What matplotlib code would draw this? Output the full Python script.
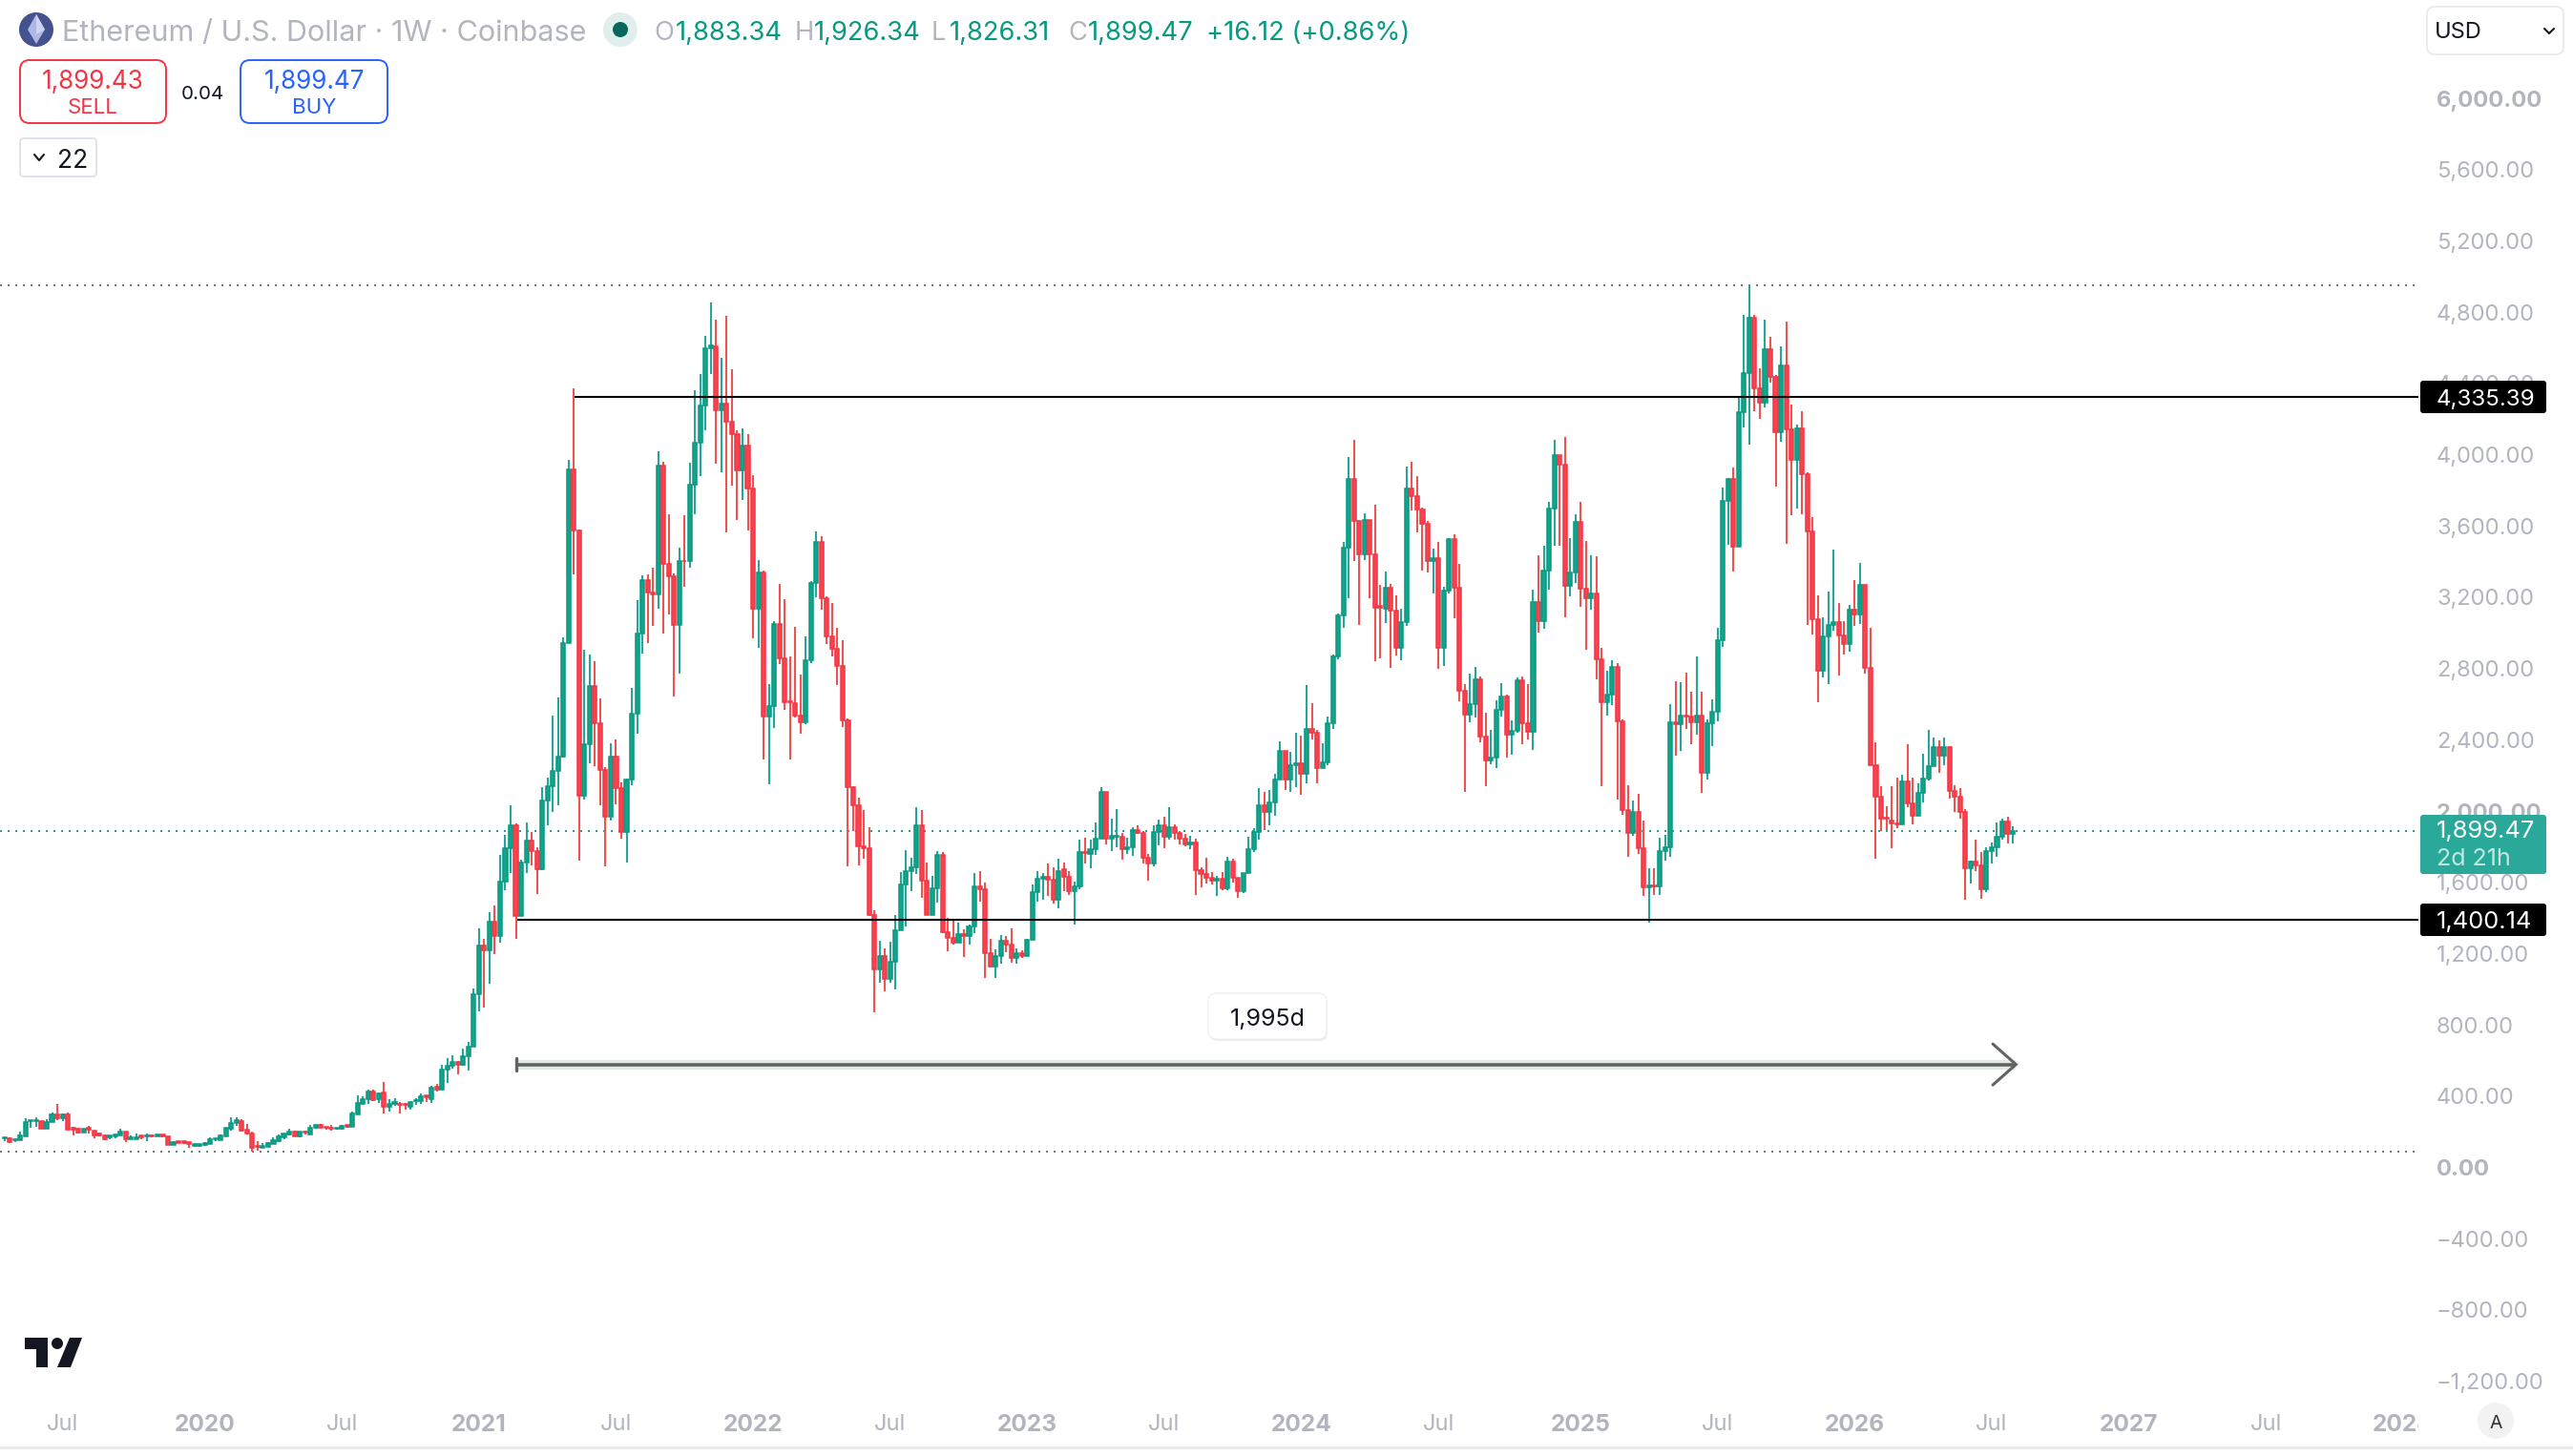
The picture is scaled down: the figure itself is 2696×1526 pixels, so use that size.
import matplotlib
matplotlib.use("Agg")
import matplotlib.pyplot as plt
from matplotlib.patches import FancyBboxPatch, Circle, Polygon, Rectangle
from matplotlib.lines import Line2D
from matplotlib.transforms import Bbox, Affine2D

# ---------- data ----------
opens = [172,174,161,161,186,270,270,270,229,267,306,288,306,231,227,208,231,215,199,190,181,186,190,211,170,170,188,183,190,186,193,183,138,156,156,150,133,133,134,142,167,165,186,229,258,272,220,201,129,122,128,144,156,179,195,210,185,213,197,231,247,238,235,226,226,247,240,310,369,392,436,392,431,351,369,369,369,351,381,381,413,395,461,449,561,579,600,588,636,
686,981,1254,1231,1391,1311,1612,1804,1932,1421,
1724,1847,1784,1686,2071,2148,2235,2317,2954,3927,
3583,2099,2383,2711,2506,2241,1981,2317,2140,1894,
2189,2555,3009,3309,3238,3225,3949,3397,3326,3055,
3416,3413,3845,4080,4285,4610,4620,4258,4296,4198,
4129,3922,4064,3823,3148,3348,2539,2602,3058,2869,
2626,2615,2547,2511,2858,3293,3520,3203,2990,2919,
2823,2517,2142,2041,1812,1804,1426,1123,1194,1068,
1167,1339,1596,1675,1696,1932,1618,1425,1577,1766,
1331,1296,1272,1321,1307,1360,1589,1569,1214,1138,
1194,1280,1263,1184,1212,1198,1290,1553,1628,1639,
1624,1514,1682,1639,1561,1587,1782,1772,1794,1856,
2120,1856,1868,1868,1799,1807,1905,1889,1747,1717,
1895,1930,1864,1922,1885,1856,1823,1835,1680,1655,
1635,1618,1628,1577,1729,1635,1559,1663,1794,1891,
2045,2008,2061,2188,2348,2188,2266,2280,2219,2469,
2450,2254,2284,2504,2881,3110,3488,3877,3638,3453,
3642,3451,3160,3146,3262,3133,2924,3070,3820,3777,
3705,3621,3416,3428,2928,3246,3535,3266,2688,2553,
2608,2748,2426,2297,2311,2580,2656,2438,2461,2742,
2502,2455,3182,3076,3363,3707,4007,3953,3277,3350,
3631,3260,3207,3230,2865,2623,2662,2818,2516,2018,
1885,2004,1803,1581,1594,1586,1788,1805,2510,2496,
2549,2539,2508,2545,2227,2502,2569,2971,3754,3873,
3496,4248,4471,4779,4385,4302,4602,4447,4139,4511,
4152,3980,4157,3903,3579,3089,2799,2989,3057,3070,
2998,2947,3139,3116,3279,2812,2266,2089,1971,1958,
1941,1936,2175,2052,1985,2111,2192,2261,2369,2320,
2369,2125,2093,2003,1688,1725,1703,1570,1784,1806,
1867,1951,1883.34]

highs = [177,179,174,211,286,275,292,270,281,318,367,313,318,238,233,227,243,215,206,195,188,193,227,211,188,200,188,200,193,193,193,183,158,156,156,152,140,140,150,179,174,195,231,292,292,279,252,210,156,147,153,179,195,199,227,217,211,217,249,249,252,238,247,231,247,247,324,415,408,447,445,431,490,392,399,377,374,383,401,426,413,468,479,586,624,640,606,677,715,
1016,1350,1293,1443,1481,1764,1877,2044,1940,1738,
1946,1894,1806,2145,2197,2547,2648,2987,3982,4383,
3591,2916,2889,2853,2643,2257,2391,2413,2172,2194,
2703,3195,3334,3339,3378,4031,3971,3676,3345,3490,
3670,3965,4373,4463,4676,4867,4769,4556,4788,4490,
4148,4159,4127,3897,3419,3361,2722,3077,3285,3200,
2878,3044,2776,2990,3301,3580,3553,3216,3178,3039,
2971,2530,2148,2085,2017,1918,1454,1282,1240,1276,
1426,1667,1790,1747,2032,2016,1721,1649,1788,1782,
1409,1399,1382,1348,1372,1661,1675,1608,1292,1235,
1313,1307,1352,1239,1231,1294,1598,1675,1661,1717,
1696,1741,1721,1675,1614,1850,1860,1850,1946,2143,
2120,1967,2020,1885,1860,1917,1928,1897,1768,1932,
1962,1977,2032,1936,1897,1880,1874,1854,1696,1747,
1667,1649,1667,1753,1741,1635,1665,1866,1913,2139,
2116,2131,2219,2401,2348,2342,2448,2434,2717,2614,
2465,2389,2541,2891,3117,3519,3998,4095,3638,3683,
3644,3730,3279,3355,3283,3221,3146,3945,3972,3892,
3713,3638,3484,3521,3268,3545,3564,3398,2723,2783,
2820,2766,2561,2465,2631,2727,2664,2520,2760,2766,
2723,3254,3447,3500,3746,4095,4007,4111,3543,3676,
3746,3527,3447,3441,2926,2797,2856,2840,2524,2155,
2069,2106,1957,1688,1688,1860,1876,2610,2740,2733,
2787,2680,2879,2680,2524,2637,3039,3826,3879,3939,
4331,4794,4960,4796,4496,4769,4673,4459,4619,4759,
4292,4179,4255,3913,3660,3222,3099,3244,3478,3178,
3077,3168,3308,3404,3279,3040,2396,2150,2039,2150,
2199,2214,2386,2199,2167,2332,2467,2423,2408,2423,
2376,2155,2138,2022,1732,1850,1781,1808,1835,1946,
1968,1978,1926.34]

lows = [159,147,152,161,186,234,240,229,229,267,277,270,224,190,202,208,202,174,186,165,168,174,190,152,170,170,168,159,181,186,179,136,136,145,140,120,126,126,131,142,159,165,186,217,243,213,197,100,104,122,124,142,153,169,190,185,179,197,195,229,231,224,219,224,222,235,240,310,369,369,383,374,315,324,356,315,336,336,363,369,377,372,436,449,484,565,533,579,556,
686,886,909,1043,1207,1273,1568,1661,1292,1421,
1661,1708,1547,1681,1929,2003,2044,2309,2954,3337,
1730,2077,2276,2260,2044,1702,1959,2050,1853,1724,
2153,2446,2894,2954,3050,3145,3009,3113,2653,2782,
3268,3375,3676,3892,4148,4463,3960,3913,3575,3837,
3646,3758,3585,2981,2927,2301,2162,2476,2837,2580,
2301,2536,2446,2500,2839,3211,3140,2949,2878,2719,
2481,1702,1899,1708,1741,1421,882,1044,1000,1049,
1011,1339,1361,1563,1659,1524,1425,1425,1495,1327,
1224,1259,1270,1192,1259,1327,1503,1075,1132,1075,
1153,1218,1159,1153,1184,1194,1290,1501,1511,1532,
1491,1466,1563,1542,1374,1573,1717,1690,1764,1856,
1825,1784,1809,1737,1768,1757,1881,1717,1618,1700,
1819,1803,1850,1850,1823,1813,1799,1538,1583,1604,
1598,1532,1567,1567,1610,1522,1552,1661,1782,1850,
1905,1932,1983,2188,2131,2116,2147,2100,2168,2413,
2168,2250,2266,2473,2860,3041,3207,3412,3057,3422,
3207,2854,2869,3068,2815,2883,2859,3051,3699,3576,
3361,3351,3234,2811,2826,3234,3090,2629,2120,2510,
2537,2397,2151,2274,2254,2541,2311,2326,2449,2383,
2412,2356,3012,3033,3254,3500,3500,3098,3217,3293,
3158,2916,3141,2752,2151,2547,2604,2075,1991,1756,
1870,1770,1534,1385,1540,1540,1731,1756,2323,2350,
2473,2387,2438,2112,2190,2377,2516,2934,3504,3357,
3495,4166,4066,4257,4211,4277,4417,3830,4083,3510,
3672,3709,3677,3055,3003,2622,2762,2721,3023,2772,
2890,2905,3050,3062,2782,2266,1744,1899,1904,1803,
1912,1934,2030,1936,1983,2059,2180,2261,2224,2268,
2081,2005,1966,1511,1604,1671,1516,1553,1715,1752,
1848,1826,1826.31]

closes = [177,152,167,190,265,275,275,229,267,306,288,306,224,224,206,227,224,192,192,168,188,193,211,170,181,181,181,190,183,193,184,138,151,149,149,143,140,140,147,168,174,190,231,258,275,217,201,122,124,129,145,161,185,199,211,186,210,208,231,247,231,231,226,231,244,240,311,372,394,435,386,427,351,365,377,360,360,377,390,410,404,458,449,561,579,600,588,636,686,
981,1254,1231,1391,1311,1612,1804,1932,1421,1724,
1847,1784,1686,2071,2148,2235,2317,2954,3927,3583,
2099,2383,2711,2506,2241,1981,2317,2140,1894,2189,
2555,3009,3309,3238,3225,3949,3397,3326,3055,3416,
3413,3845,4080,4285,4610,4627,4258,4296,4198,4129,
3922,4064,3823,3148,3348,2539,2602,3058,2869,2621,
2621,2547,2511,2858,3293,3520,3203,2990,2919,2823,
2517,2142,2041,1812,1804,1426,1123,1194,1068,1167,
1339,1596,1675,1696,1932,1618,1425,1577,1766,1331,
1296,1272,1321,1307,1360,1589,1569,1214,1138,1194,
1280,1263,1184,1212,1198,1290,1553,1628,1639,1624,
1514,1675,1639,1561,1587,1782,1776,1794,1856,2120,
1856,1874,1874,1799,1807,1905,1889,1747,1717,1895,
1930,1864,1922,1885,1856,1823,1835,1680,1655,1635,
1618,1628,1577,1729,1635,1559,1663,1794,1891,2045,
2008,2061,2188,2348,2188,2266,2280,2219,2469,2450,
2254,2284,2504,2881,3110,3488,3877,3638,3453,3642,
3451,3154,3154,3262,3133,2924,3070,3820,3777,3705,
3621,3416,3428,2928,3246,3535,3266,2688,2553,2608,
2748,2426,2297,2311,2580,2656,2438,2461,2742,2502,
2455,3182,3076,3363,3707,4007,3953,3277,3350,3631,
3260,3207,3230,2865,2623,2662,2818,2516,2018,1885,
2004,1803,1581,1594,1586,1788,1805,2510,2496,2549,
2539,2508,2545,2227,2502,2569,2971,3754,3873,3496,
4248,4471,4779,4385,4302,4602,4447,4139,4511,4152,
3980,4157,3903,3579,3089,2799,2989,3057,3070,2998,
2947,3139,3116,3279,2812,2266,2089,1966,1966,1941,
1936,2175,2052,1985,2111,2192,2261,2369,2320,2369,
2125,2093,2003,1688,1725,1703,1570,1784,1806,1867,
1951,1880,1899.47]

price_ticks = [6000,5600,5200,4800,4400,4000,3600,3200,2800,2400,2000,1600,1200,800,400,0,-400,-800,-1200]
bold_prices = [6000,2000,0]
time_labels = ['Jul','2020','Jul','2021','Jul','2022','Jul','2023','Jul','2024','Jul','2025','Jul','2026','Jul','2027','Jul','2028']
time_index  = [11,38,64,90,116,142,168,194,220,246,272,299,325,351,377,403,429,455]
ath_price, atl_price, last_price = 4960.0, 100.0, 1899.47
resist_price, support_price = 4335.39, 1400.14
range_price = 588.0
range_label = '1,995d'
range_start, range_end = 97, 381.6

# ---------- layout ----------
W, H, DPI = 2696, 1526, 100
plt.rcParams['font.family'] = ['Inter', 'DejaVu Sans']
GREEN, RED, BLUE, GREY = '#089981', '#f23645', '#2962ff', '#b2b5be'
WICK_G, WICK_R = '#26a69a', '#ef5350'
BODY_G, BODY_R = '#14a48c', '#f7444f'

fig = plt.figure(figsize=(W/DPI, H/DPI), dpi=DPI, facecolor='white')
PANE_R, PANE_B = 2534, 1470
ax = fig.add_axes([0, 1-PANE_B/H, PANE_R/W, PANE_B/H], facecolor='white')
ax.set_zorder(1)
step, x0 = 5.523, 4.8
ppx = 0.1867
ax.set_xlim(-x0/step, (PANE_R-x0)/step)
ax.set_ylim((1225.4-PANE_B)/ppx, 1225.4/ppx)
for s in ax.spines.values():
    s.set_visible(False)

# horizontal levels
dots = (0, (1, 3))
ax.axhline(ath_price, color='#787b86', lw=1.44, ls=dots, zorder=1)
ax.axhline(atl_price, color='#787b86', lw=1.44, ls=dots, zorder=1)
ax.axhline(last_price, color='#26a69a', lw=1.44, ls=dots, zorder=1)

# candles
for i, (o, h, l, c) in enumerate(zip(opens, highs, lows, closes)):
    up = c >= o
    ax.vlines(i, l, h, color=WICK_G if up else WICK_R, lw=1.5, zorder=3 + i*1e-3, capstyle='butt')
    lo, hi = min(o, c), max(o, c)
    ax.bar(i, hi-lo, bottom=lo, width=0.74, facecolor=BODY_G if up else BODY_R,
           edgecolor=GREEN if up else RED, linewidth=1.1, zorder=3 + i*1e-3)

# drawn levels
ax.hlines(resist_price, 108.1, ax.get_xlim()[1], color='black', lw=1.5, zorder=5)
ax.hlines(support_price, 97.3, ax.get_xlim()[1], color='black', lw=1.5, zorder=5)

# date range tool
ax.hlines(range_price, range_start, range_end, color='#dfeee0', lw=7.2, zorder=2)
ax.hlines(range_price, range_start, range_end, color='#636363', lw=2.6, zorder=4)
ax.plot([range_start, range_start], [range_price-35, range_price+35], color='#636363', lw=2.4, zorder=4, solid_capstyle='round')
ax.plot([range_end-4.4, range_end, range_end-4.4], [range_price+115, range_price, range_price-115],
        color='#636363', lw=2.2, zorder=4, solid_capstyle='round', solid_joinstyle='miter')

# axes ticks
ax.yaxis.tick_right()
ax.set_yticks(price_ticks)
ax.set_yticklabels([(f'{v:,.2f}' if v >= 0 else '\u2212' + f'{-v:,.2f}') for v in price_ticks])
ax.set_xticks(time_index)
ax.set_xticklabels(time_labels)
ax.tick_params(axis='both', length=0, colors=GREY, labelsize=17)
ax.tick_params(axis='y', pad=13.7)
ax.tick_params(axis='x', pad=8.5)
up2 = Affine2D().translate(0, 2)
for v, tick in zip(price_ticks, ax.yaxis.get_major_ticks()):
    tick.label2.set_transform(tick.label2.get_transform() + up2)
    if v in bold_prices:
        tick.label2.set_fontweight('bold')
clip = Bbox([[0, 0], [PANE_R, H]])
for s, lab in zip(time_labels, ax.get_xticklabels()):
    if s != 'Jul':
        lab.set_fontweight('bold')
        lab.set_fontsize(17.6)
    lab.set_clip_box(clip)
    lab.set_clip_on(True)

# ---------- overlay helpers (pixel coordinates, y downwards) ----------
def fx(x): return x / W
def fy(y): return 1 - y / H

def T(x, y, s, size=17, color='#131722', ha='left', weight='normal', z=12):
    return fig.text(fx(x), fy(y), s, fontsize=size, color=color, ha=ha, va='center_baseline', fontweight=weight, zorder=z)

def box(x0_, y0_, x1_, y1_, fc='white', ec='none', lw=1.0, r=8, z=10):
    p = FancyBboxPatch((x0_+r, H-y1_+r), x1_-x0_-2*r, y1_-y0_-2*r, boxstyle=f'round,pad={r},rounding_size={r}',
                       transform=None, fc=fc, ec=ec, lw=lw, zorder=z)
    fig.add_artist(p)
    return p

def poly(pts, fc, z=11):
    p = Polygon([(x, H-y) for x, y in pts], closed=True, transform=None, fc=fc, ec='none', zorder=z)
    fig.add_artist(p)

def circ(x, y, r, fc, z=11):
    p = Circle((x, H-y), r, transform=None, fc=fc, ec='none', zorder=z)
    fig.add_artist(p)

def pline(pts, color, lw, z=11):
    l = Line2D([x for x, y in pts], [H-y for x, y in pts], transform=None, color=color, lw=lw, zorder=z, solid_capstyle='round')
    fig.add_artist(l)

# header
circ(38, 31, 18, '#44538f')
poly([(38, 15), (47, 31), (38, 46), (29, 31)], '#aeb8e6')
poly([(38, 15), (47, 31), (38, 36)], '#cdd5f3', z=12)
T(65, 32, 'Ethereum / U.S. Dollar \u00b7 1W \u00b7 Coinbase', size=22, color=GREY)
circ(650, 31, 18, '#e0efec')
circ(650, 31, 8, '#08665a')
HS = 19.7
T(685, 32, 'O', size=HS, color=GREY)
T(708, 32, '1,883.34', size=HS, color=GREEN)
T(833, 32, 'H', size=HS, color=GREY)
T(853, 32, '1,926.34', size=HS, color=GREEN)
T(976, 32, 'L', size=HS, color=GREY)
T(995, 32, '1,826.31', size=HS, color=GREEN)
T(1119, 32, 'C', size=HS, color=GREY)
T(1140, 32, '1,899.47', size=HS, color=GREEN)
T(1264, 32, '+16.12 (+0.86%)', size=HS, color=GREEN)

# sell / buy buttons
box(21, 63, 174, 129, ec=RED, lw=1.4, r=10)
T(97.5, 83, '1,899.43', size=18.8, color=RED, ha='center')
T(97.5, 111, 'SELL', size=16, color=RED, ha='center')
T(212, 97, '0.04', size=14.8, color='#131722', ha='center')
box(252, 63, 406, 129, ec=BLUE, lw=1.4, r=10)
T(329, 83, '1,899.47', size=18.8, color=BLUE, ha='center')
T(329, 111, 'BUY', size=16, color=BLUE, ha='center')
box(21, 145, 101, 185, ec='#e0e3eb', lw=1.4, r=4)
pline([(36, 162), (41, 168), (46, 162)], '#131722', 1.5)
T(76, 166, '22', size=19, color='#131722', ha='center')

# USD box
box(2543, 7, 2686, 57, ec='#ebebeb', lw=1.4, r=8)
T(2560 - 9, 32, 'USD', size=17, color='#131722')
pline([(2666, 30), (2671, 35), (2676, 30)], '#131722', 1.5)

# price tags
box(2536, 399, 2668, 433, fc='black', r=3)
T(2553, 416, '4,335.39', size=17.4, color='white')
box(2536, 854, 2668, 916, fc='#2aa899', r=3)
T(2553, 869, '1,899.47', size=18.4, color='white')
T(2553, 898, '2d 21h', size=18, color='#c2e8e0')
box(2536, 947, 2668, 981, fc='black', r=3)
T(2553, 964, '1,400.14', size=18.4, color='white')

# range label
box(1267, 1043, 1391, 1091, fc='#ececec', r=9, z=9)
box(1266, 1041, 1390, 1089, fc='white', ec='#f0f0f0', lw=1, r=9)
T(1328, 1066, range_label, size=18, color='#131722', ha='center')

# logo
poly([(26, 1402), (50, 1402), (50, 1433), (38, 1433), (38, 1414), (26, 1414)], '#131722')
circ(60, 1408, 6, '#131722')
poly([(73, 1402), (86, 1402), (74, 1433), (60, 1433)], '#131722')

# auto button and bottom rule
circ(2615, 1489, 19, '#f2f2f2')
T(2615, 1490, 'A', size=14, color='#333333', ha='center')
fig.add_artist(Rectangle((0, H-1519), W, 3, transform=None, fc='#e9e9ec', ec='none', zorder=8))

fig.savefig('out.png', dpi=DPI, facecolor='white')
